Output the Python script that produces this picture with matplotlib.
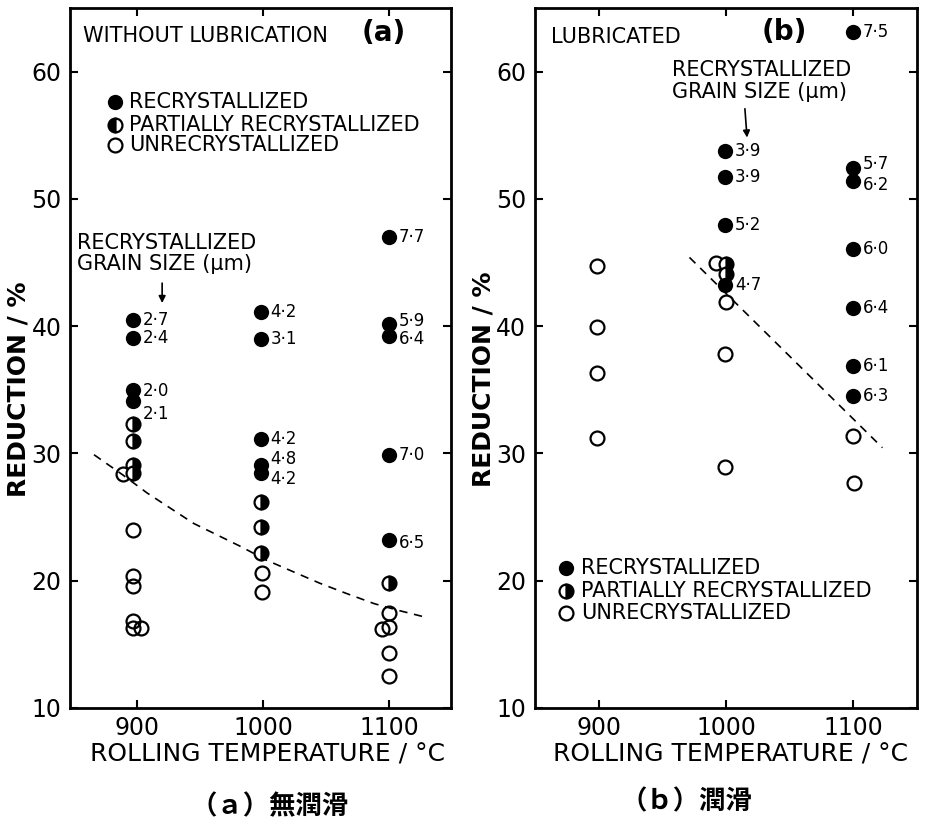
import matplotlib
matplotlib.use('Agg')
import matplotlib.pyplot as plt

plt.rcParams['font.family'] = ['DejaVu Sans']

# (a) without lubrication
a_full_x = [897, 897, 897, 897, 998, 998, 998, 998, 998, 1100, 1100, 1100, 1100, 1100]
a_full_y = [40.5, 39.1, 35.0, 34.1, 41.1, 39.0, 31.1, 29.1, 28.5, 47.0, 40.2, 39.2, 29.9, 23.2]
a_grain = ['2·7', '2·4', '2·0', '2·1', '4·2', '3·1', '4·2', '4·8', '4·2', '7·7', '5·9', '6·4', '7·0', '6·5']
a_nudge = [0, 0, -1, -9, 0, 0, 0, 4, -5, 0, 2, -2, 0, -2]
a_half_x = [897, 897, 897, 897, 998, 998, 998, 1100]
a_half_y = [32.3, 31.0, 29.1, 28.5, 26.2, 24.2, 22.2, 19.8]
a_open_x = [889, 897, 897, 897, 897, 897, 903, 999, 999, 1100, 1100, 1094, 1100, 1100]
a_open_y = [28.4, 24.0, 20.4, 19.6, 16.8, 16.3, 16.3, 20.6, 19.1, 17.5, 16.4, 16.2, 14.3, 12.5]
a_curve_x = [866, 889, 908, 945, 982, 1003, 1024, 1045, 1066, 1088, 1106, 1130]
a_curve_y = [29.9, 28.3, 26.9, 24.5, 22.7, 21.6, 20.7, 19.8, 19.0, 18.2, 17.7, 17.1]

# (b) lubricated
b_full_x = [999, 999, 999, 999, 1100, 1100, 1100, 1100, 1100, 1100, 1100]
b_full_y = [53.8, 51.75, 47.95, 43.2, 63.1, 52.4, 51.4, 46.1, 41.4, 36.9, 34.5]
b_grain = ['3·9', '3·9', '5·2', '4·7', '7·5', '5·7', '6·2', '6·0', '6·4', '6·1', '6·3']
b_nudge = [0, 0, 0, 0, 0, 3, -3, 0, 0, 0, 0]
b_half_x = [1000, 1000]
b_half_y = [44.9, 44.1]
b_open_x = [898, 898, 898, 898, 992, 1000, 999, 999, 1100, 1101]
b_open_y = [44.75, 39.95, 36.35, 31.2, 45.0, 41.9, 37.8, 28.95, 31.4, 27.7]
b_curve_x = [971, 1123]
b_curve_y = [45.4, 30.45]

x_ticks = [900, 1000, 1100]
y_ticks = [10, 20, 30, 40, 50, 60]
states = ['RECRYSTALLIZED', 'PARTIALLY RECRYSTALLIZED', 'UNRECRYSTALLIZED']

MS = 11


def full(ax, x, y):
    ax.plot(x, y, 'o', color='k', ms=MS, mew=0, zorder=4)


def half(ax, x, y, side='right'):
    ax.plot(x, y, 'o', ms=MS - 1, mfc='k', mfcalt='white', mec='k', mew=1.6,
            fillstyle=side, ls='none', zorder=3)


def hollow(ax, x, y):
    ax.plot(x, y, 'o', ms=MS - 1, mfc='none', mec='k', mew=1.6, ls='none', zorder=2)


def legend(ax, x, ys, xt, side):
    full(ax, [x], [ys[0]])
    half(ax, [x], [ys[1]], side)
    hollow(ax, [x], [ys[2]])
    for y, s in zip(ys, states):
        ax.text(xt, y, s, fontsize=15, va='center', ha='left')


def grain_labels(ax, xs, ys, labels, nudges, size=12):
    for x, y, s, n in zip(xs, ys, labels, nudges):
        ax.annotate(s, (x, y), xytext=(7, n), textcoords='offset points',
                    fontsize=size, va='center', ha='left')


def style(ax, xlim):
    ax.set_xlim(*xlim)
    ax.set_ylim(10, 65)
    ax.set_xticks(x_ticks)
    ax.set_yticks(y_ticks)
    ax.tick_params(direction='in', length=6, width=1.5, top=True, right=True,
                   labelsize=17, pad=6)
    for sp in ax.spines.values():
        sp.set_linewidth(2)
    ax.set_ylabel('REDUCTION / %', fontsize=18, fontweight='bold')
    ax.set_xlabel('ROLLING TEMPERATURE / °C', fontsize=18)


fig = plt.figure(figsize=(9.25, 8.22), dpi=100)
ax1 = fig.add_axes([0.0757, 0.1387, 0.412, 0.8516])
ax2 = fig.add_axes([0.578, 0.1387, 0.413, 0.8516])

# panel (a)
style(ax1, (847, 1149))
ax1.plot(a_curve_x, a_curve_y, color='k', lw=1.2, ls=(0, (5, 4)), zorder=1)
hollow(ax1, a_open_x, a_open_y)
half(ax1, a_half_x, a_half_y)
full(ax1, a_full_x, a_full_y)
grain_labels(ax1, a_full_x, a_full_y, a_grain, a_nudge)
ax1.text(857, 62.8, 'WITHOUT LUBRICATION', fontsize=15, va='center')
ax1.text(1078, 63.0, '(a)', fontsize=20, fontweight='bold', va='center')
legend(ax1, 882.5, [57.6, 55.8, 54.2], 894, 'left')
ax1.text(852.4, 45.7, 'RECRYSTALLIZED\nGRAIN SIZE (μm)', fontsize=15,
         va='center', linespacing=1.1)
ax1.annotate('', xy=(920, 41.6), xytext=(920, 43.6),
             arrowprops=dict(arrowstyle='-|>', color='k', lw=1.2, mutation_scale=10))
ax1.yaxis.set_label_coords(-0.103, 0.455)
ax1.xaxis.set_label_coords(0.517, -0.05)

# panel (b)
style(ax2, (849, 1150))
ax2.plot(b_curve_x, b_curve_y, color='k', lw=1.2, ls=(0, (5, 4)), zorder=1)
hollow(ax2, b_open_x, b_open_y)
half(ax2, b_half_x, b_half_y)
full(ax2, b_full_x, b_full_y)
grain_labels(ax2, b_full_x, b_full_y, b_grain, b_nudge)
ax2.text(862, 62.75, 'LUBRICATED', fontsize=15, va='center')
ax2.text(1028, 63.1, '(b)', fontsize=20, fontweight='bold', va='center')
legend(ax2, 874, [21.0, 19.2, 17.5], 885.5, 'right')
ax2.text(957.5, 59.25, 'RECRYSTALLIZED\nGRAIN SIZE (μm)', fontsize=15,
         va='center', linespacing=1.1)
ax2.annotate('', xy=(1016.5, 54.6), xytext=(1014.5, 57.3),
             arrowprops=dict(arrowstyle='-|>', color='k', lw=1.2, mutation_scale=10))
ax2.yaxis.set_label_coords(-0.103, 0.47)
ax2.xaxis.set_label_coords(0.513, -0.05)

cjk = ['Noto Sans CJK JP', 'DejaVu Sans']
fig.text(270 / 925, 1 - 807 / 822, '（ａ）無潤滑', fontsize=19, family=cjk,
         fontweight='bold', ha='center', va='center')
fig.text(686 / 925, 1 - 802 / 822, '（ｂ）潤滑', fontsize=19, family=cjk,
         fontweight='bold', ha='center', va='center')

fig.savefig('out.png', dpi=100)
